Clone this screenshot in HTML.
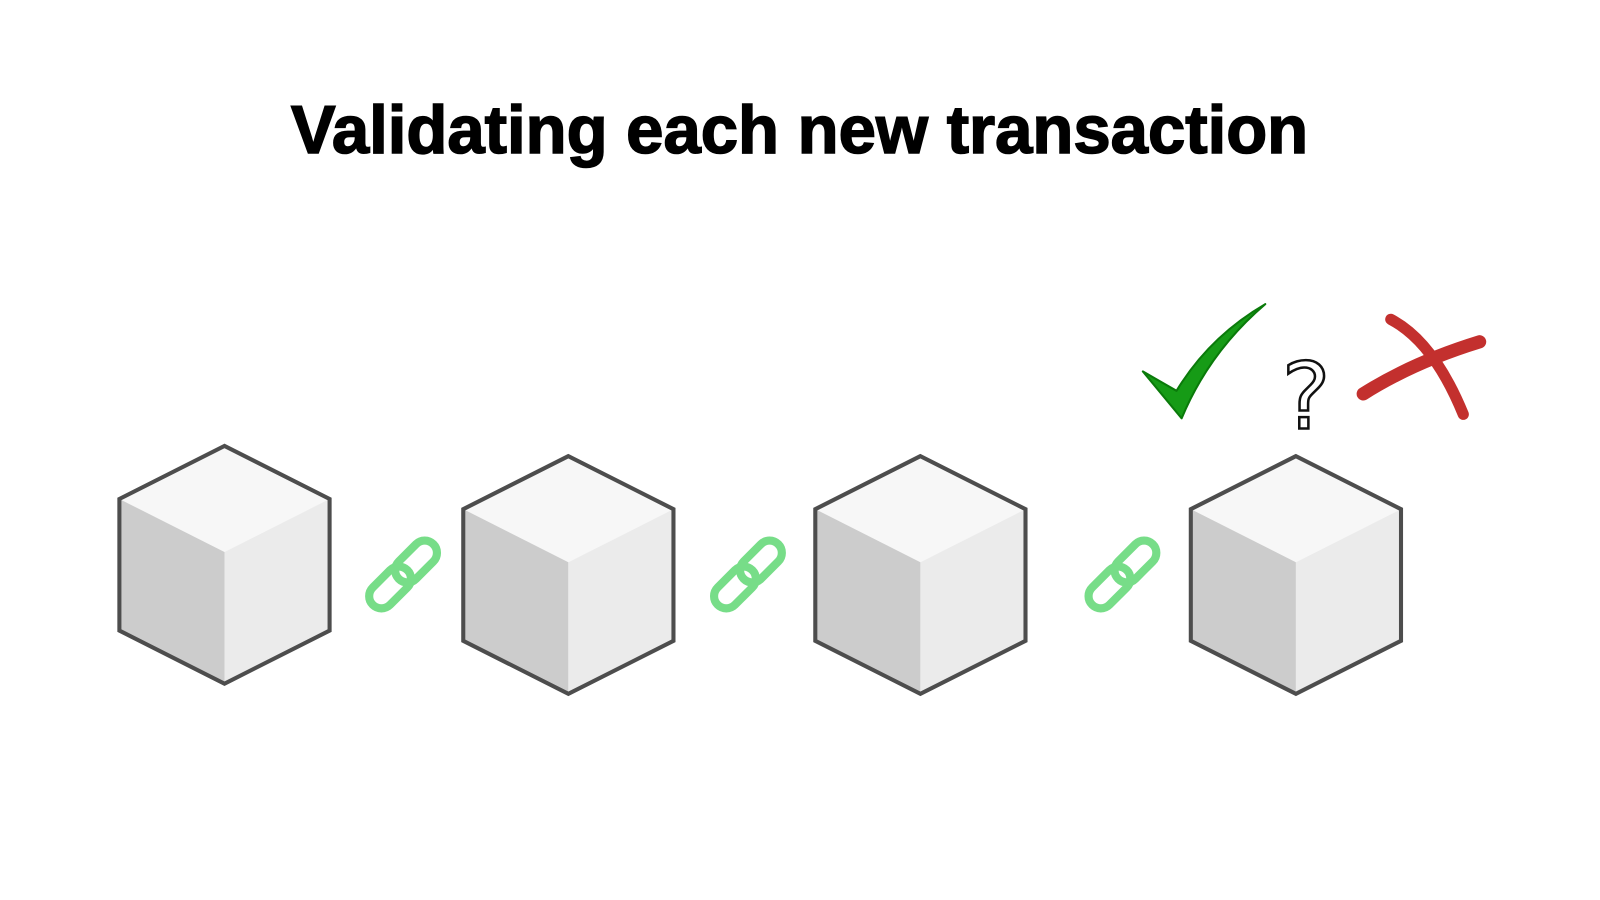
<!DOCTYPE html>
<html><head><style>html,body{margin:0;padding:0;background:#fff;}svg{display:block}</style></head><body>
<svg width="1600" height="900" viewBox="0 0 1600 900" xmlns="http://www.w3.org/2000/svg">
<rect width="1600" height="900" fill="#fff"/>
<defs>
<g id="cube">
<polygon points="0,0 -103,52 0,104 103,52" fill="#f7f7f7"/>
<polygon points="-103,52 0,104 0,233 -103,181" fill="#cccccc"/>
<polygon points="103,52 0,104 0,233 103,181" fill="#ebebeb"/>
<polygon points="0,0 -103,52 -103,181 0,233 103,181 103,52" fill="none" stroke="#4d4d4d" stroke-width="4" stroke-linejoin="miter"/>
</g>
<g id="link" fill="none" stroke="#77dd88" stroke-width="8">
<g transform="rotate(-45)">
<rect x="-42" y="-12" width="48" height="24" rx="12"/>
<rect x="-6" y="-12" width="48" height="24" rx="12"/>
</g>
</g>
</defs>
<g transform="scale(1.0204)">
<text x="285" y="150" textLength="997" lengthAdjust="spacingAndGlyphs" font-family="Liberation Sans, sans-serif" font-weight="bold" font-size="66" fill="#000" stroke="#000" stroke-width="1.5">Validating each new transaction</text>
<use href="#cube" x="220" y="437"/>
<use href="#cube" x="557" y="447"/>
<use href="#cube" x="902" y="447"/>
<use href="#cube" x="1270" y="447"/>
<use href="#link" x="395" y="563"/>
<use href="#link" x="733" y="563"/>
<use href="#link" x="1100" y="563"/>
<path d="M1120,364 L1153,383 Q1185,330 1240,298 Q1185,345 1158,410 Z" fill="#169b16" stroke="#0a7a0a" stroke-width="2" stroke-linejoin="round"/>
<text x="1280" y="420" text-anchor="middle" font-family="DejaVu Sans, sans-serif" font-size="90" fill="#fff" stroke="#111" stroke-width="2.5">?</text>
<path d="M1363,313 Q1405,335 1434,406" fill="none" stroke="#c3302e" stroke-width="11" stroke-linecap="round"/>
<path d="M1336,386 Q1385,355 1450,335" fill="none" stroke="#c3302e" stroke-width="13" stroke-linecap="round"/>
</g>
</svg>
</body></html>
